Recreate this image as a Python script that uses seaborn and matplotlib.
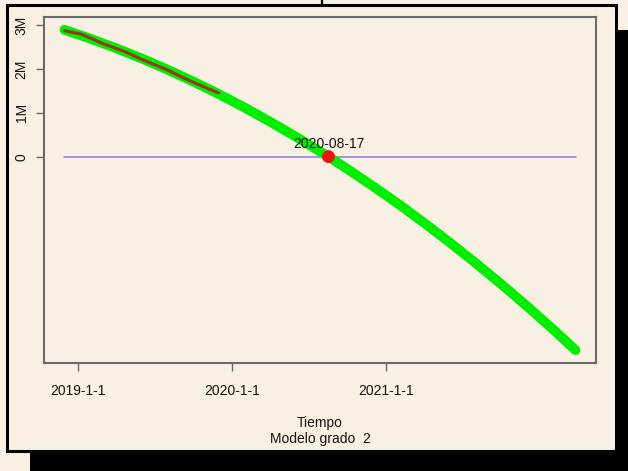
import pandas as pd
import matplotlib
matplotlib.use("Agg")
import matplotlib.pyplot as plt
import matplotlib.dates as mdates
from matplotlib.patches import Rectangle
from matplotlib.lines import Line2D
import seaborn as sns

# Serie observada (millones)
obs_dates = ["2018-12-01", "2018-12-20", "2019-01-10", "2019-02-01", "2019-03-01",
             "2019-04-01", "2019-05-01", "2019-06-01", "2019-07-01", "2019-08-01",
             "2019-09-01", "2019-10-01", "2019-11-01", "2019-12-01"]
obs_values = [2.87, 2.83, 2.79, 2.70, 2.58, 2.47, 2.36, 2.22, 2.10, 1.98,
              1.83, 1.70, 1.57, 1.45]

# Ajuste polinomial de grado 2 (millones)
fit_dates = ["2018-12-01", "2019-02-01", "2019-04-01", "2019-06-01", "2019-08-01",
             "2019-10-01", "2019-12-01", "2020-02-01", "2020-04-01", "2020-06-01",
             "2020-08-17", "2020-10-01", "2020-12-01", "2021-02-01", "2021-04-01",
             "2021-06-01", "2021-08-01", "2021-10-01", "2021-12-01", "2022-02-01",
             "2022-03-25"]
fit_values = [2.89, 2.686, 2.475, 2.24, 1.987, 1.716, 1.428, 1.115, 0.795, 0.454,
              0.0, -0.283, -0.677, -1.095, -1.513, -1.962, -2.429, -2.913, -3.415,
              -3.946, -4.41]

root_date = "2020-08-17"
root_value = 0.0

x_ticks = ["2019-01-01", "2020-01-01", "2021-01-01"]
x_tick_labels = ["2019-1-1", "2020-1-1", "2021-1-1"]
y_ticks = [0, 1, 2, 3]
y_tick_labels = ["0", "1M", "2M", "3M"]

BEIGE = "#f8f0e3"
GREY = "#6a6a6a"
TEXT = "#141414"
FS = 10

sns.set_theme(style="ticks")
plt.rcParams["font.family"] = ["Liberation Sans", "DejaVu Sans"]

obs_df = pd.DataFrame({"fecha": pd.to_datetime(obs_dates), "valor": obs_values})
fit_df = pd.DataFrame({"fecha": pd.to_datetime(fit_dates), "valor": fit_values})
zero_df = pd.DataFrame({"fecha": pd.to_datetime([fit_dates[0], fit_dates[-1]]),
                        "valor": [0.0, 0.0]})
root_df = pd.DataFrame({"fecha": pd.to_datetime([root_date]), "valor": [root_value]})

W, H = 628, 471
fig = plt.figure(figsize=(W / 100, H / 100), dpi=100, facecolor=BEIGE)

# Sombra negra y marco del panel
fig.add_artist(Rectangle((30 / W, -0.05), 1.1, 1 - 30 / H + 0.05,
                         transform=fig.transFigure, facecolor="black",
                         edgecolor="none", zorder=-3))
fig.add_artist(Rectangle((6.5 / W, 1 - 450.5 / H), (615.5 - 6.5) / W, (450.5 - 5) / H,
                         transform=fig.transFigure, facecolor=BEIGE,
                         edgecolor="black", linewidth=2.2, zorder=-2))
fig.add_artist(Line2D([322 / W, 322 / W], [1.01, 1 - 5 / H], transform=fig.transFigure,
                      color="black", linewidth=1.6, zorder=-1))

ax = fig.add_axes([44 / W, 1 - 363 / H, 552 / W, 346 / H])
ax.set_facecolor(BEIGE)

sns.lineplot(data=fit_df, x="fecha", y="valor", color="#00ee00", linewidth=7.0,
             solid_capstyle="round", ax=ax, zorder=3)
sns.lineplot(data=obs_df, x="fecha", y="valor", color="#a0321c", linewidth=2.2,
             ax=ax, zorder=4)
sns.lineplot(data=zero_df, x="fecha", y="valor", color="#8c7ad8", linewidth=1.1,
             ax=ax, zorder=2)
sns.scatterplot(data=root_df, x="fecha", y="valor", color="#ee1111", s=85,
                edgecolor="none", ax=ax, zorder=5)
ax.annotate(root_date, (mdates.date2num(root_df["fecha"].iloc[0]), root_value),
            xytext=(0, 4), textcoords="offset points", ha="center", va="bottom",
            fontsize=FS, color=TEXT, zorder=6)

# Limites con un 4% de margen
xn = mdates.date2num(fit_df["fecha"])
xpad = (xn.max() - xn.min()) * 0.04
ax.set_xlim(xn.min() - xpad, xn.max() + xpad)
ymin, ymax = min(fit_values), max(fit_values)
ypad = (ymax - ymin) * 0.04
ax.set_ylim(ymin - ypad, ymax + ypad)

ax.set_xticks(pd.to_datetime(x_ticks))
ax.set_xticklabels(x_tick_labels, fontsize=FS, color=TEXT)
ax.set_yticks(y_ticks)
ax.set_yticklabels(y_tick_labels, fontsize=FS, color=TEXT, rotation=90, va="center")
ax.tick_params(axis="x", bottom=True, length=6, width=1, color=GREY, pad=9)
ax.tick_params(axis="y", left=True, length=6, width=1, color=GREY, pad=5)

for sp in ax.spines.values():
    sp.set_visible(True)
    sp.set_color(GREY)
    sp.set_linewidth(1.5)

ax.set_xlabel("")
ax.set_ylabel("")
fig.text(320 / W, 1 - 423 / H, "Tiempo", ha="center", va="center",
         fontsize=FS, color=TEXT)
fig.text(320 / W, 1 - 439 / H, "Modelo grado  2", ha="center", va="center",
         fontsize=FS, color=TEXT)

fig.savefig("out.png", dpi=100, facecolor=BEIGE)
